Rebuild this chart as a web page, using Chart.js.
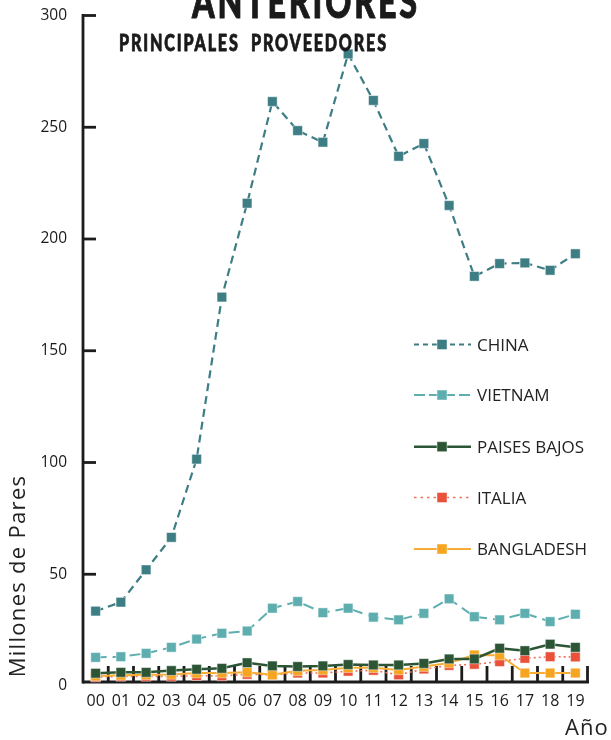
<!DOCTYPE html>
<html><head><meta charset="utf-8">
<script src="https://cdn.jsdelivr.net/npm/chart.js@4.4.1/dist/chart.umd.min.js"></script>
<style>html,body{margin:0;padding:0;background:#fff}#wrap{width:611px;height:740px;position:relative}</style>
</head><body><div id="wrap"><canvas id="c" width="611" height="740"></canvas></div>
<script>
const years = ["00","01","02","03","04","05","06","07","08","09","10","11","12","13","14","15","16","17","18","19"];
const yTickValues = [0,50,100,150,200,250,300];
const seriesNames = ["CHINA","VIETNAM","PAISES BAJOS","ITALIA","BANGLADESH"];
const china = [33.5,37.5,52,66.5,101.5,174,216,261.5,248.5,243.3,282.8,262,237,242.7,215,183.3,189,189.3,186,193.4];
const vietnam = [12.8,13.1,14.6,17.3,21.0,23.6,24.6,34.8,37.8,32.8,34.8,30.8,29.6,32.5,39.0,31.0,29.6,32.5,28.8,32.1];
const paisesBajos = [5.7,6.1,6.1,6.9,7.5,7.9,10.4,9.0,8.7,9.0,9.6,9.4,9.4,10.1,12.1,12.1,16.9,15.8,18.7,17.3];
const italia = [4.0,4.3,4.3,4.3,4.6,4.5,5.2,5.0,5.8,5.8,6.6,7.0,5.0,7.6,9.2,9.7,10.9,12.4,13.1,13.0];
const bangladesh = [4.5,4.8,5.0,5.2,5.8,5.8,6.2,5.0,6.8,7.2,8.2,8.2,7.2,8.7,10.3,13.9,13.8,5.8,5.8,5.8];
const titleTop = "ANTERIORES";
const titleSub = "PRINCIPALES  PROVEEDORES";
const yTitle = "Millones de Pares";
const xTitle = "Año";

const FONT = "'Open Sans', 'Noto Sans', sans-serif";

function ds(label, data, color, lineColor, width, dash, order) {
  return {
    label, data, order,
    borderColor: lineColor, borderWidth: width, borderDash: dash,
    backgroundColor: color,
    pointStyle: 'rect', pointRadius: 6.8, pointHoverRadius: 6.8,
    pointBackgroundColor: color, pointBorderColor: 'rgba(255,255,255,0.45)', pointBorderWidth: 1,
    tension: 0, fill: false, clip: false
  };
}

const datasets = [
  ds(seriesNames[0], china, '#3d7d84', '#3d7d84', 2.2, [8,5], 0),
  ds(seriesNames[1], vietnam, '#5eaeb0', '#5eaeb0', 2, [11,6], 1),
  ds(seriesNames[2], paisesBajos, '#2c5535', '#2c5535', 2.5, [], 2),
  ds(seriesNames[3], italia, '#e9513b', '#ef6f5b', 1.6, [2,3], 4),
  ds(seriesNames[4], bangladesh, '#f6a520', '#f7ad35', 2, [], 3)
];

function fitText(ctx, text, x, baseline, width, font, spacing, stroke) {
  ctx.save();
  ctx.font = font;
  try { ctx.letterSpacing = spacing + 'px'; } catch (e) {}
  const w = ctx.measureText(text).width - spacing;
  ctx.translate(x, baseline);
  ctx.scale(width / w, 1);
  ctx.textAlign = 'left';
  ctx.textBaseline = 'alphabetic';
  ctx.fillText(text, 0, 0);
  if (stroke) {
    ctx.strokeStyle = ctx.fillStyle;
    ctx.lineWidth = stroke;
    ctx.lineJoin = 'round';
    ctx.strokeText(text, 0, 0);
  }
  try { ctx.letterSpacing = '0px'; } catch (e) {}
  ctx.restore();
}

const decor = {
  id: 'decor',
  beforeDatasetsDraw(chart) {
    const ctx = chart.ctx, x = chart.scales.x, y = chart.scales.y, ca = chart.chartArea;
    ctx.save();
    ctx.strokeStyle = '#1c1c1c';
    ctx.lineWidth = 2.8;
    ctx.lineCap = 'butt';
    const axisY = ca.bottom - 4;
    ctx.beginPath();
    ctx.moveTo(ca.left, y.getPixelForValue(300) - 1.4);
    ctx.lineTo(ca.left, axisY + 1.4);
    ctx.stroke();
    yTickValues.forEach(v => {
      if (v === 0) return;
      const py = y.getPixelForValue(v);
      ctx.beginPath();
      ctx.moveTo(ca.left, py);
      ctx.lineTo(ca.left + 13, py);
      ctx.stroke();
    });
    ctx.beginPath();
    ctx.moveTo(ca.left, axisY);
    ctx.lineTo(ca.right + 1, axisY);
    ctx.stroke();
    for (let i = 0; i < years.length; i++) {
      let px;
      if (i < years.length - 1) px = (x.getPixelForValue(i) + x.getPixelForValue(i + 1)) / 2;
      else px = ca.right - 0.5;
      ctx.beginPath();
      ctx.moveTo(px, axisY);
      ctx.lineTo(px, axisY - 16);
      ctx.stroke();
    }
    ctx.restore();
  },
  afterDraw(chart) {
    const ctx = chart.ctx;
    ctx.save();
    ctx.fillStyle = '#1a1a1a';
    fitText(ctx, titleTop, 192, 18, 225, "900 46px Lato, Roboto, 'DejaVu Sans', sans-serif", 4, 1);
    fitText(ctx, titleSub, 119, 50.7, 267, "900 22px Lato, Roboto, 'DejaVu Sans', sans-serif", 2.5, 0.8);
    ctx.fillStyle = '#222';
    ctx.save();
    ctx.translate(25, 576);
    ctx.rotate(-Math.PI / 2);
    ctx.font = "22px " + FONT;
    try { ctx.letterSpacing = '1.3px'; } catch (e) {}
    ctx.textAlign = 'center';
    ctx.textBaseline = 'alphabetic';
    ctx.fillText(yTitle, 0, 0);
    try { ctx.letterSpacing = '0px'; } catch (e) {}
    ctx.restore();
    ctx.save();
    ctx.font = "22px " + FONT;
    try { ctx.letterSpacing = '1px'; } catch (e) {}
    ctx.textAlign = 'left';
    ctx.textBaseline = 'alphabetic';
    ctx.fillText(xTitle, 565, 735);
    try { ctx.letterSpacing = '0px'; } catch (e) {}
    ctx.restore();
    const rows = [344.5, 395, 446.7, 497.5, 549];
    chart.data.datasets.forEach((d, i) => {
      const ly = rows[i];
      ctx.save();
      ctx.strokeStyle = d.borderColor;
      ctx.lineWidth = d.borderWidth;
      const legDash = i === 0 ? [5,4] : i === 1 ? [11,4] : i === 3 ? [2.5,4] : [];
      ctx.setLineDash(legDash);
      ctx.beginPath();
      ctx.moveTo(414, ly);
      ctx.lineTo(471, ly);
      ctx.stroke();
      ctx.setLineDash([]);
      ctx.fillStyle = d.pointBackgroundColor;
      ctx.fillRect(442 - 5, ly - 5, 10, 10);
      ctx.strokeStyle = 'rgba(255,255,255,0.45)';
      ctx.lineWidth = 1;
      ctx.strokeRect(442 - 5, ly - 5, 10, 10);
      ctx.fillStyle = '#222';
      ctx.font = "17px " + FONT;
      ctx.textAlign = 'left';
      ctx.textBaseline = 'alphabetic';
      ctx.fillText(d.label, 477, ly + 6.2);
      ctx.restore();
    });
    ctx.restore();
  }
};

new Chart(document.getElementById('c'), {
  type: 'line',
  data: { labels: years, datasets },
  options: {
    responsive: false,
    animation: false,
    events: [],
    layout: { padding: { left: 0, right: 23, top: 15.5, bottom: 0 } },
    plugins: { legend: { display: false }, tooltip: { enabled: false }, title: { display: false } },
    scales: {
      x: {
        type: 'category', offset: true,
        grid: { display: false, drawTicks: false },
        border: { display: false },
        ticks: { color: '#1a1a1a', font: { family: FONT, size: 16 }, padding: 6, maxRotation: 0, autoSkip: false },
        afterFit(s) { s.height = 54; s.paddingLeft = 0; s.paddingRight = 0; }
      },
      y: {
        type: 'linear', min: 0, max: 300,
        grid: { display: false, drawTicks: false },
        border: { display: false },
        afterBuildTicks(s) { s.ticks = yTickValues.map(v => ({ value: v })); },
        ticks: { color: '#1a1a1a', font: { family: FONT, size: 15.5 }, padding: 16 },
        afterFit(s) { s.width = 83; s.paddingTop = 0; s.paddingBottom = 0; }
      }
    }
  },
  plugins: [decor]
});
</script>
</body></html>
